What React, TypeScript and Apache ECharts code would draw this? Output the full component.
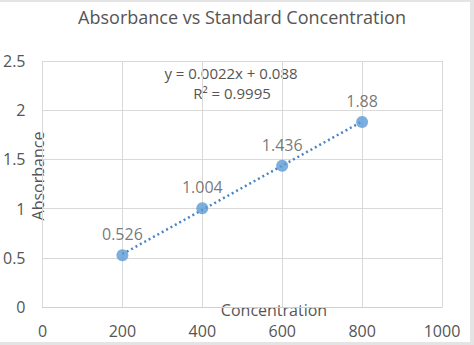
import React, { useEffect, useRef } from "react";
import * as echarts from "echarts";

const concentrations = [200, 400, 600, 800];
const absorbances = [0.526, 1.004, 1.436, 1.88];
const xTicks = { min: 0, max: 1000, interval: 200 };
const yTicks = { min: 0, max: 2.5, interval: 0.5 };
const titleText = "Absorbance vs Standard Concentration";
const equationText = "y = 0.0022x + 0.088";
const r2Text = "R² = 0.9995";

function fit(xs: number[], ys: number[]) {
  const n = xs.length;
  const mx = xs.reduce((a, b) => a + b, 0) / n;
  const my = ys.reduce((a, b) => a + b, 0) / n;
  let sxy = 0, sxx = 0;
  for (let i = 0; i < n; i++) {
    sxy += (xs[i] - mx) * (ys[i] - my);
    sxx += (xs[i] - mx) ** 2;
  }
  const slope = sxy / sxx;
  return { slope, intercept: my - slope * mx };
}

export default function App() {
  const ref = useRef<HTMLDivElement>(null);
  useEffect(() => {
    if (!ref.current) return;
    const chart = echarts.init(ref.current, undefined, { renderer: "svg" });
    const { slope, intercept } = fit(concentrations, absorbances);
    const x0 = concentrations[0];
    const x1 = concentrations[concentrations.length - 1];
    const trend = [
      [x0, slope * x0 + intercept],
      [x1, slope * x1 + intercept],
    ];
    const font = "'Open Sans', sans-serif";
    const textColor = "#555555";
    chart.setOption({
      animation: false,
      backgroundColor: "#ffffff",
      textStyle: { fontFamily: font },
      grid: { left: 42, right: 32, top: 61, bottom: 38, containLabel: false },
      xAxis: {
        type: "value",
        min: xTicks.min,
        max: xTicks.max,
        interval: xTicks.interval,
        axisLine: { show: true, lineStyle: { color: "#D0D0D0", width: 1 } },
        axisTick: { show: false },
        axisLabel: {
          color: textColor, fontSize: 16, margin: 16, fontFamily: font,
          formatter: (v: number) => String(v),
        },
        splitLine: { show: true, lineStyle: { color: "#D9D9D9", width: 1 } },
      },
      yAxis: {
        type: "value",
        min: yTicks.min,
        max: yTicks.max,
        interval: yTicks.interval,
        axisLine: { show: false },
        axisTick: { show: false },
        axisLabel: {
          color: textColor, fontSize: 16, margin: 17, fontFamily: font,
          formatter: (v: number) => String(v),
        },
        splitLine: { show: true, lineStyle: { color: "#D9D9D9", width: 1 } },
      },
      series: [
        {
          type: "line",
          data: trend,
          symbol: "none",
          lineStyle: { color: "#4A84C4", width: 2.5, type: [2, 3], cap: "butt" },
          silent: true,
          z: 2,
        },
        {
          type: "scatter",
          data: concentrations.map((c, i) => [c, absorbances[i]]),
          symbol: "circle",
          symbolSize: 12,
          itemStyle: { color: "#5B9BD5" },
          label: {
            show: true,
            position: "top",
            distance: 7,
            color: textColor,
            fontSize: 16,
            fontFamily: font,
            formatter: (p: any) => String(p.value[1]),
          },
          z: 3,
        },
      ],
      graphic: [
        { type: "rect", shape: { x: 470, y: 0, width: 4, height: 345 }, style: { fill: "#E4E4E4" } },
        { type: "rect", shape: { x: 0, y: 0, width: 474, height: 2 }, style: { fill: "#E4E4E4" } },
        { type: "rect", shape: { x: 0, y: 342, width: 474, height: 3 }, style: { fill: "#E4E4E4" } },
        {
          type: "text", x: 242, y: 17,
          style: { text: titleText, fill: textColor, font: `18px ${font}`, textAlign: "center", textVerticalAlign: "middle" },
        },
        {
          type: "text", x: 231, y: 73,
          style: { text: equationText, fill: textColor, font: `15px ${font}`, textAlign: "center", textVerticalAlign: "middle" },
        },
        {
          type: "text", x: 232, y: 93,
          style: { text: r2Text, fill: textColor, font: `15px ${font}`, textAlign: "center", textVerticalAlign: "middle" },
        },
        {
          type: "text", x: 38, y: 176, rotation: Math.PI / 2,
          style: { text: "Absorbance", fill: textColor, font: `16px ${font}`, textAlign: "center", textVerticalAlign: "middle" },
        },
        {
          type: "text", x: 274, y: 310,
          style: { text: "Concentration", fill: textColor, font: `16px ${font}`, textAlign: "center", textVerticalAlign: "middle" },
        },
      ],
    });
    return () => chart.dispose();
  }, []);
  return (
    <div
      ref={ref}
      style={{ position: "fixed", left: 0, top: 0, width: 474, height: 345 }}
    />
  );
}
